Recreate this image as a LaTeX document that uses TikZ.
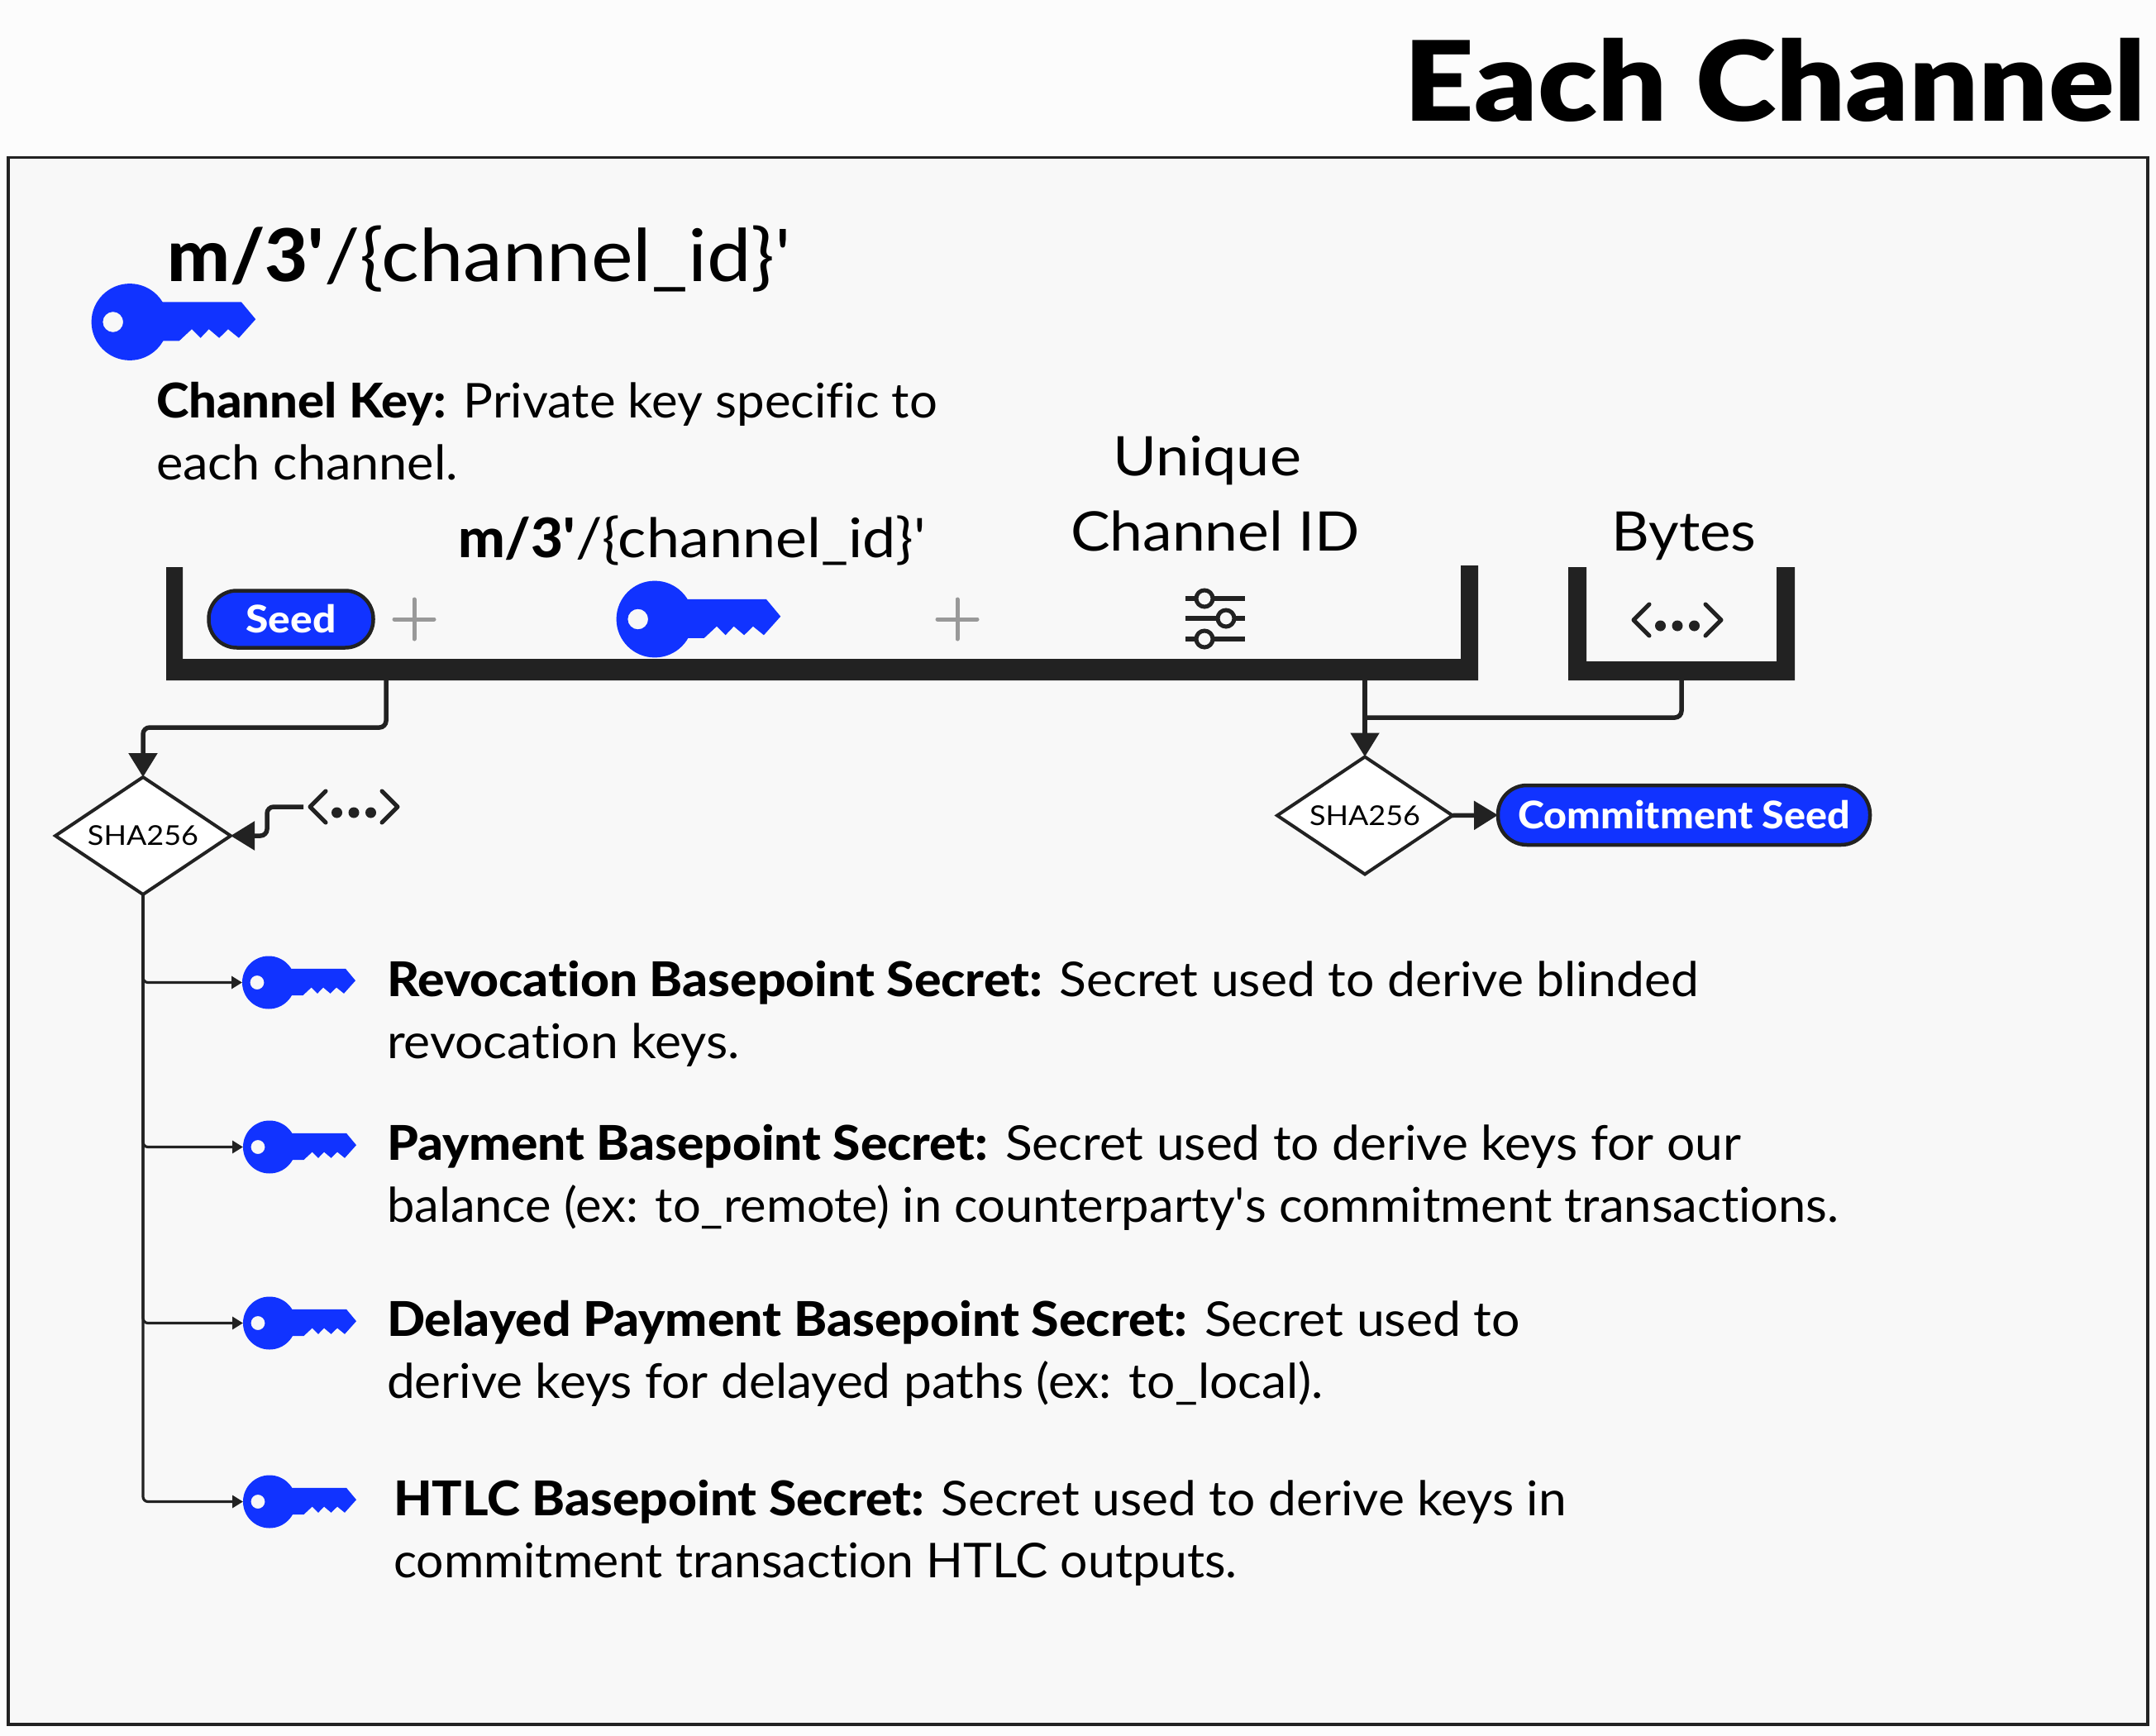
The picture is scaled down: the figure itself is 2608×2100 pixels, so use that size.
\documentclass[tikz,border=0pt]{standalone}
\usepackage{fontspec}
\usepackage{graphicx}
\setmainfont{Lato}[BoldFont={Lato Heavy},Ligatures=NoCommon]
\newfontfamily\titlefont{Lato Black}
\usetikzlibrary{arrows.meta,shapes.geometric}
\definecolor{keyblue}{HTML}{1133FF}
\definecolor{ink}{HTML}{222222}
\definecolor{panel}{HTML}{F8F8F8}
\definecolor{outer}{HTML}{FCFCFC}
\newcommand{\fs}[1]{\fontsize{#1}{#1}\selectfont}
\newcommand{\fitto}[2]{\resizebox{#1pt}{\height}{#2}}
\newcommand{\ap}{\textquotesingle}
\tikzset{
  keyicon/.pic={
    \fill[keyblue,even odd rule] (0,0) circle[radius=32]
      (-14,0) circle[radius=8.5];
    \fill[keyblue] (25,-16.7) -- (93,-16.7) -- (105,-2.3) -- (91,13.3) -- (82,6) -- (74.6,13.3) -- (66,6) -- (59,13.3) -- (51.7,6) -- (41.3,15.7) -- (25,15.7) -- cycle;
  },
  dotsicon/.pic={
    \draw[ink,line width=5pt,line cap=round,line join=round] (-34,-19) -- (-53,0) -- (-34,19);
    \draw[ink,line width=5pt,line cap=round,line join=round] (34,-19) -- (53,0) -- (34,19);
    \foreach \dx in {-20.5,0,20.5} \fill[ink] (\dx,7) circle[radius=6.5];
  },
  plusicon/.pic={
    \draw[black!40,line width=5pt,line cap=round] (-24,0) -- (24,0) (0,-24) -- (0,24);
  },
  keyslot/.style={circle,minimum size=64pt,inner sep=0pt,outer sep=0pt},
  txt/.style={anchor=base west,inner sep=0pt,outer sep=0pt,text=black},
  body/.style={txt,align=left,font=\fs{58}},
  hash/.style={diamond,draw=ink,line width=4pt,fill=white,inner sep=0pt,outer sep=0pt,aspect=1.5,minimum width=212pt,minimum height=142pt,font=\fs{33}},
  pill/.style={draw=ink,line width=4.5pt,fill=keyblue,text=white,font=\fs{46}\bfseries,inner sep=0pt,outer sep=0pt},
  bigarrow/.style={ink,line width=5.5pt,rounded corners=8pt,-{Triangle[length=29pt,width=34pt]}},
  thinarrow/.style={ink,line width=3.2pt,rounded corners=6pt,-{Triangle[length=13pt,width=15pt]}},
}
\begin{document}
\begin{tikzpicture}[x=1pt,y=-1pt]
\useasboundingbox (0,0) rectangle (2608,2100);
\fill[outer] (0,0) rectangle (2608,2100);
\draw[ink,line width=3.5pt,fill=panel] (10,190.5) rectangle (2598,2086);

\node[txt,anchor=base east,font=\fs{134}\titlefont] (title) at (2596,147) {\fitto{897}{Each Channel}};

\pic[scale=1.45] at (157,389.5) {keyicon};
\node[txt,font=\fs{88}] (path1) at (202,341) {\fitto{190}{\textbf{m/3\ap}}\fitto{565}{/\{channel\_id\}\ap}};
\node[body] (desc0) at (189,580) {\fitto{945}{\textbf{Channel Key:} Private key specific to}\\[17pt]\fitto{365}{each channel.}};

% brackets
\fill[ink] (201,686) -- (221,686) -- (221,797) -- (1767,797) -- (1767,684) -- (1788,684) -- (1788,823) -- (201,823) -- cycle;
\fill[ink] (1897,686) -- (1919,686) -- (1919,800) -- (2149,800) -- (2149,686) -- (2171,686) -- (2171,823) -- (1897,823) -- cycle;
\coordinate (brA) at (467,823);
\coordinate (brB) at (1651,823);
\coordinate (brC) at (2034,823);
\coordinate (merge) at (1651,868);

\node[pill,rounded corners=34pt,minimum width=199pt,minimum height=69pt] (seed) at (352,749) {\fitto{109}{Seed}};
\pic at (501,749) {plusicon};
\pic[scale=1.45] at (792,749) {keyicon};
\pic at (1158,749) {plusicon};
\node[txt,font=\fs{66}] (path2) at (554,674) {\fitto{142}{\textbf{m/3\ap}}\fitto{424}{/\{channel\_id\}\ap}};
\node[txt,anchor=base,font=\fs{66}] (uniq) at (1460,575) {\fitto{228}{Unique}};
\node[txt,anchor=base,font=\fs{66}] (chid) at (1470,666) {\fitto{350}{Channel ID}};
\node[txt,anchor=base,font=\fs{66}] (bytes) at (2037,666) {\fitto{175}{Bytes}};

% sliders
\draw[ink,line width=6pt] (1434,724) -- (1506,724) (1434,748) -- (1506,748) (1434,773) -- (1506,773);
\draw[ink,line width=5pt,fill=panel] (1457,724) circle[radius=10] (1483,748) circle[radius=10] (1457,773) circle[radius=10];

\pic at (2029,750) {dotsicon};
\pic at (428,976) {dotsicon};
\coordinate (dotsL) at (367,976);

\node[hash] (h1) at (173,1011) {\fitto{134}{SHA256}};
\node[hash] (h2) at (1651,986.5) {\fitto{134}{SHA256}};
\node[pill,rounded corners=35pt,minimum width=450pt,minimum height=72pt] (cseed) at (2037,986) {\fitto{402}{Commitment Seed}};

\draw[bigarrow] (brA) -- (467,880) -- (173,880) -- (h1.north);
\draw[bigarrow] (dotsL) -- (323,976) -- (323,1011) -- (h1.east);
\draw[bigarrow,rounded corners=0pt] (brB) -- (h2.north);
\draw[ink,line width=5.5pt,rounded corners=8pt] (brC) -- (2034,868) -- (merge);
\draw[bigarrow,rounded corners=0pt] (h2.east) -- (cseed.west);

% outputs
\pic at (325,1188.5) {keyicon};
\pic at (326,1387.5) {keyicon};
\pic at (326,1600.5) {keyicon};
\pic at (326,1816.5) {keyicon};
\node[keyslot] (k1) at (325,1188.5) {};
\node[keyslot] (k2) at (326,1387.5) {};
\node[keyslot] (k3) at (326,1600.5) {};
\node[keyslot] (k4) at (326,1816.5) {};
\foreach \k in {k1,k2,k3,k4} \draw[thinarrow] (h1.south) |- (\k.west);

\node[body] (d1) at (468,1280) {\fitto{1587}{\textbf{Revocation Basepoint Secret:} Secret used to derive blinded}\\[17pt]\fitto{427}{revocation keys.}};
\node[body] (d2) at (468,1478) {\fitto{1638}{\textbf{Payment Basepoint Secret:} Secret used to derive keys for our}\\[17pt]\fitto{1756}{balance (ex: to\_remote) in counterparty\ap s commitment transactions.}};
\node[body] (d3) at (468,1691) {\fitto{1371}{\textbf{Delayed Payment Basepoint Secret:} Secret used to}\\[17pt]\fitto{1133}{derive keys for delayed paths (ex: to\_local).}};
\node[body] (d4) at (476,1908) {\fitto{1419}{\textbf{HTLC Basepoint Secret:} Secret used to derive keys in}\\[17pt]\fitto{1020}{commitment transaction HTLC outputs.}};
\end{tikzpicture}
\end{document}
